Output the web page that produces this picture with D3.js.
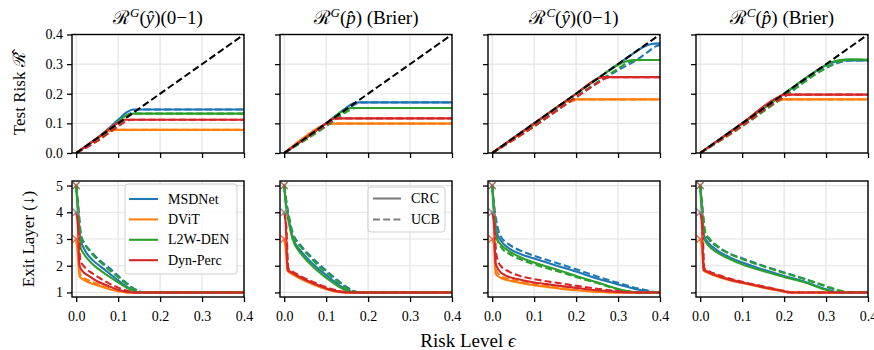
<!DOCTYPE html>
<html>
<head>
<meta charset="utf-8">
<script src="https://cdn.jsdelivr.net/npm/d3@7"></script>
<style>
body { margin: 0; background: #fff; }
text { font-family: "Liberation Serif", "DejaVu Serif", serif; fill: #000; }
</style>
</head>
<body>
<script>
// models, colours and panels
const models = ["MSDNet", "DViT", "L2W-DEN", "Dyn-Perc"];
const colors = ["#1f77b4", "#ff7f0e", "#2ca02c", "#d62728"];
const methods = ["CRC", "UCB"];
const titleRisk = ["G", "G", "C", "C"];
const titlePred = ["ŷ", "p̂", "ŷ", "p̂"];
const titleLoss = ["(0−1)", " (Brier)", "(0−1)", " (Brier)"];

const epsTicks = [0, 0.1, 0.2, 0.3, 0.4];
const riskTicks = [0, 0.1, 0.2, 0.3, 0.4];
const layerTicks = [1, 2, 3, 4, 5];
const diagonal = [[0, 0], [0.4, 0.4]];

// x marks at eps = 0 (full model exit)
const startLayers = [5, 4, 3];
const startColors = ["#8c564b", "#8a8a8a", "#e8603a"];

// ---- test risk, [eps, risk] points, order = models ----
const riskGyCRC = [
  [[0,0],[0.05,0.05],[0.1,0.112],[0.12,0.137],[0.135,0.147],[0.4,0.147]],
  [[0,0],[0.05,0.048],[0.08,0.075],[0.09,0.078],[0.4,0.078]],
  [[0,0],[0.05,0.05],[0.1,0.105],[0.12,0.128],[0.135,0.133],[0.4,0.133]],
  [[0,0],[0.05,0.05],[0.1,0.102],[0.115,0.112],[0.4,0.112]]
];
const riskGyUCB = [
  [[0,0],[0.05,0.045],[0.1,0.095],[0.13,0.135],[0.15,0.147],[0.4,0.147]],
  [[0,0],[0.05,0.042],[0.085,0.075],[0.095,0.078],[0.4,0.078]],
  [[0,0],[0.05,0.043],[0.1,0.093],[0.125,0.125],[0.14,0.133],[0.4,0.133]],
  [[0,0],[0.05,0.04],[0.1,0.09],[0.12,0.108],[0.13,0.112],[0.4,0.112]]
];
const riskGpCRC = [
  [[0,0],[0.1,0.1],[0.15,0.155],[0.165,0.168],[0.18,0.171],[0.4,0.171]],
  [[0,0],[0.09,0.092],[0.1,0.099],[0.4,0.099]],
  [[0,0],[0.1,0.1],[0.14,0.142],[0.16,0.152],[0.4,0.152]],
  [[0,0],[0.1,0.1],[0.115,0.115],[0.125,0.117],[0.4,0.117]]
];
const riskGpUCB = [
  [[0,0],[0.1,0.093],[0.15,0.145],[0.17,0.165],[0.185,0.171],[0.4,0.171]],
  [[0,0],[0.09,0.085],[0.105,0.099],[0.4,0.099]],
  [[0,0],[0.1,0.09],[0.15,0.14],[0.17,0.152],[0.4,0.152]],
  [[0,0],[0.1,0.095],[0.12,0.113],[0.13,0.117],[0.4,0.117]]
];
const riskCyCRC = [
  [[0,0],[0.1,0.1],[0.2,0.2],[0.3,0.3],[0.34,0.34],[0.36,0.358],[0.38,0.368],[0.4,0.37]],
  [[0,0],[0.1,0.097],[0.18,0.175],[0.2,0.181],[0.4,0.181]],
  [[0,0],[0.1,0.1],[0.2,0.2],[0.28,0.28],[0.3,0.298],[0.32,0.31],[0.34,0.314],[0.4,0.314]],
  [[0,0],[0.1,0.1],[0.2,0.2],[0.25,0.25],[0.265,0.256],[0.4,0.256]]
];
const riskCyUCB = [
  [[0,0],[0.1,0.092],[0.2,0.188],[0.3,0.28],[0.34,0.31],[0.37,0.34],[0.39,0.36],[0.4,0.365]],
  [[0,0],[0.1,0.09],[0.19,0.175],[0.21,0.181],[0.4,0.181]],
  [[0,0],[0.1,0.09],[0.2,0.19],[0.3,0.285],[0.32,0.303],[0.34,0.312],[0.36,0.314],[0.4,0.314]],
  [[0,0],[0.1,0.09],[0.2,0.188],[0.25,0.235],[0.28,0.256],[0.4,0.256]]
];
const riskCpCRC = [
  [[0,0],[0.1,0.1],[0.2,0.2],[0.28,0.28],[0.31,0.303],[0.34,0.312],[0.4,0.312]],
  [[0,0],[0.1,0.098],[0.18,0.178],[0.19,0.181],[0.4,0.181]],
  [[0,0],[0.1,0.1],[0.2,0.2],[0.28,0.28],[0.31,0.305],[0.33,0.313],[0.36,0.316],[0.4,0.315]],
  [[0,0],[0.1,0.1],[0.19,0.192],[0.2,0.197],[0.4,0.197]]
];
const riskCpUCB = [
  [[0,0],[0.1,0.093],[0.2,0.19],[0.3,0.288],[0.33,0.305],[0.36,0.312],[0.4,0.312]],
  [[0,0],[0.1,0.09],[0.19,0.177],[0.2,0.181],[0.4,0.181]],
  [[0,0],[0.1,0.09],[0.2,0.19],[0.3,0.287],[0.33,0.308],[0.36,0.315],[0.4,0.315]],
  [[0,0],[0.1,0.092],[0.2,0.19],[0.21,0.197],[0.4,0.197]]
];

// ---- exit layer, [eps, layer] points ----
const exitGyCRC = [
  [[0,5],[0.005,4.0],[0.01,3.0],[0.02,2.6],[0.04,2.2],[0.06,1.95],[0.08,1.7],[0.1,1.45],[0.12,1.22],[0.14,1.03],[0.15,1],[0.4,1]],
  [[0,3],[0.003,2.6],[0.008,1.6],[0.02,1.45],[0.04,1.32],[0.06,1.22],[0.08,1.12],[0.1,1.05],[0.12,1.0],[0.4,1]],
  [[0,5],[0.005,3.8],[0.01,2.7],[0.02,2.4],[0.04,2.05],[0.06,1.8],[0.08,1.58],[0.1,1.38],[0.12,1.18],[0.14,1.03],[0.15,1],[0.4,1]],
  [[0,4],[0.004,3.5],[0.008,2.0],[0.015,1.8],[0.03,1.62],[0.05,1.42],[0.075,1.25],[0.1,1.1],[0.12,1.02],[0.13,1],[0.4,1]]
];
const exitGyUCB = [
  [[0,5],[0.006,4.0],[0.012,3.1],[0.02,2.85],[0.04,2.45],[0.06,2.15],[0.08,1.9],[0.1,1.62],[0.12,1.35],[0.14,1.12],[0.155,1.02],[0.165,1],[0.4,1]],
  [[0,3],[0.004,2.6],[0.01,1.65],[0.03,1.45],[0.05,1.32],[0.07,1.2],[0.09,1.1],[0.11,1.03],[0.13,1.0],[0.4,1]],
  [[0,5],[0.006,4.0],[0.012,3.0],[0.02,2.8],[0.04,2.4],[0.06,2.1],[0.08,1.82],[0.1,1.57],[0.12,1.32],[0.14,1.1],[0.16,1],[0.4,1]],
  [[0,4],[0.005,3.5],[0.01,2.2],[0.02,1.95],[0.04,1.7],[0.06,1.5],[0.08,1.32],[0.1,1.18],[0.12,1.07],[0.14,1.0],[0.4,1]]
];
const exitGpCRC = [
  [[0,5],[0.005,4.2],[0.01,3.8],[0.02,3.05],[0.04,2.55],[0.06,2.2],[0.08,1.9],[0.1,1.65],[0.12,1.4],[0.14,1.18],[0.16,1.03],[0.17,1],[0.4,1]],
  [[0,3],[0.004,2.6],[0.008,1.8],[0.02,1.68],[0.04,1.5],[0.06,1.36],[0.08,1.23],[0.1,1.12],[0.12,1.04],[0.14,1],[0.4,1]],
  [[0,5],[0.005,4.2],[0.01,3.7],[0.02,3.0],[0.04,2.45],[0.06,2.1],[0.08,1.8],[0.1,1.55],[0.12,1.32],[0.14,1.13],[0.16,1.02],[0.17,1],[0.4,1]],
  [[0,4],[0.004,3.5],[0.008,1.85],[0.02,1.72],[0.04,1.55],[0.06,1.4],[0.08,1.27],[0.1,1.15],[0.12,1.06],[0.14,1.01],[0.15,1],[0.4,1]]
];
const exitGpUCB = [
  [[0,5],[0.006,4.3],[0.012,3.8],[0.02,3.25],[0.04,2.75],[0.06,2.4],[0.08,2.1],[0.1,1.82],[0.12,1.55],[0.14,1.3],[0.16,1.1],[0.18,1.0],[0.4,1]],
  [[0,3],[0.005,2.6],[0.01,1.85],[0.02,1.74],[0.04,1.56],[0.06,1.41],[0.08,1.28],[0.1,1.16],[0.12,1.07],[0.14,1.02],[0.15,1],[0.4,1]],
  [[0,5],[0.006,4.3],[0.012,3.7],[0.02,3.15],[0.04,2.7],[0.06,2.35],[0.08,2.02],[0.1,1.75],[0.12,1.5],[0.14,1.25],[0.16,1.07],[0.18,1.0],[0.4,1]],
  [[0,4],[0.005,3.5],[0.01,1.9],[0.02,1.78],[0.04,1.6],[0.06,1.45],[0.08,1.32],[0.1,1.2],[0.12,1.1],[0.14,1.03],[0.16,1],[0.4,1]]
];
const exitCyCRC = [
  [[0,5],[0.004,4.2],[0.01,3.3],[0.02,2.95],[0.04,2.65],[0.07,2.42],[0.1,2.27],[0.15,2.02],[0.2,1.78],[0.25,1.52],[0.3,1.3],[0.35,1.1],[0.38,1.02],[0.39,1],[0.4,1]],
  [[0,3],[0.004,2.8],[0.008,1.7],[0.02,1.55],[0.04,1.45],[0.07,1.35],[0.1,1.27],[0.15,1.17],[0.2,1.08],[0.25,1.02],[0.28,1],[0.4,1]],
  [[0,5],[0.004,4.0],[0.01,3.05],[0.02,2.8],[0.04,2.55],[0.07,2.3],[0.1,2.12],[0.15,1.88],[0.2,1.62],[0.25,1.38],[0.3,1.13],[0.33,1.03],[0.35,1],[0.4,1]],
  [[0,4],[0.004,3.6],[0.008,2.1],[0.015,1.85],[0.03,1.65],[0.06,1.5],[0.1,1.37],[0.15,1.27],[0.2,1.17],[0.25,1.08],[0.3,1.02],[0.32,1],[0.4,1]]
];
const exitCyUCB = [
  [[0,5],[0.005,4.2],[0.012,3.5],[0.02,3.1],[0.04,2.8],[0.07,2.55],[0.1,2.37],[0.15,2.12],[0.2,1.87],[0.25,1.6],[0.3,1.36],[0.35,1.14],[0.38,1.04],[0.395,1],[0.4,1]],
  [[0,3],[0.005,2.8],[0.01,1.8],[0.02,1.62],[0.04,1.5],[0.07,1.4],[0.1,1.32],[0.15,1.2],[0.2,1.1],[0.25,1.04],[0.29,1],[0.4,1]],
  [[0,5],[0.005,4.0],[0.012,3.0],[0.02,2.72],[0.04,2.45],[0.07,2.22],[0.1,2.05],[0.15,1.82],[0.2,1.58],[0.25,1.35],[0.3,1.12],[0.33,1.03],[0.35,1],[0.4,1]],
  [[0,4],[0.005,3.6],[0.01,2.4],[0.02,2.0],[0.04,1.78],[0.07,1.6],[0.1,1.5],[0.15,1.37],[0.2,1.25],[0.25,1.14],[0.3,1.05],[0.33,1.01],[0.35,1],[0.4,1]]
];
const exitCpCRC = [
  [[0,5],[0.004,4.1],[0.01,3.1],[0.02,2.85],[0.04,2.58],[0.07,2.32],[0.1,2.12],[0.15,1.86],[0.2,1.62],[0.25,1.4],[0.3,1.12],[0.32,1.03],[0.33,1],[0.4,1]],
  [[0,3],[0.004,2.7],[0.008,1.82],[0.02,1.72],[0.04,1.6],[0.07,1.46],[0.1,1.35],[0.15,1.18],[0.2,1.03],[0.21,1],[0.4,1]],
  [[0,5],[0.004,4.1],[0.01,3.0],[0.02,2.75],[0.04,2.5],[0.07,2.25],[0.1,2.05],[0.15,1.8],[0.2,1.58],[0.25,1.37],[0.3,1.1],[0.32,1.02],[0.33,1],[0.4,1]],
  [[0,4],[0.004,3.6],[0.008,1.85],[0.02,1.75],[0.04,1.62],[0.07,1.48],[0.1,1.37],[0.15,1.2],[0.2,1.04],[0.21,1],[0.4,1]]
];
const exitCpUCB = [
  [[0,5],[0.005,4.2],[0.012,3.2],[0.02,3.0],[0.04,2.72],[0.07,2.45],[0.1,2.28],[0.15,2.0],[0.2,1.75],[0.25,1.5],[0.3,1.22],[0.33,1.06],[0.35,1],[0.4,1]],
  [[0,3],[0.005,2.7],[0.01,1.87],[0.02,1.77],[0.04,1.64],[0.07,1.5],[0.1,1.38],[0.15,1.21],[0.2,1.05],[0.22,1],[0.4,1]],
  [[0,5],[0.005,4.2],[0.012,3.25],[0.02,3.05],[0.04,2.75],[0.07,2.45],[0.1,2.25],[0.15,1.98],[0.2,1.73],[0.25,1.5],[0.3,1.24],[0.33,1.08],[0.36,1],[0.4,1]],
  [[0,4],[0.005,3.6],[0.01,1.9],[0.02,1.8],[0.04,1.67],[0.07,1.52],[0.1,1.4],[0.15,1.23],[0.2,1.06],[0.22,1],[0.4,1]]
];

const riskPanels = [[riskGyCRC, riskGyUCB], [riskGpCRC, riskGpUCB], [riskCyCRC, riskCyUCB], [riskCpCRC, riskCpUCB]];
const exitPanels = [[exitGyCRC, exitGyUCB], [exitGpCRC, exitGpUCB], [exitCyCRC, exitCyUCB], [exitCpCRC, exitCpUCB]];

// ---- layout ----
let w = 874;
let h = 350;
let panelW = 172;
let panelStep = 208;
let left0 = 72;
let topRow = [34.5, 153];
let botRow = [181, 297];
let dashes = ["none", "7,3.2"];

let svg = d3.select("body")
    .append("svg")
    .attr("width", w)
    .attr("height", h);

let defs = svg.append("defs");

function drawPanel(idx, rowName, rowY, yDomain, yTicks, showX, series, isTop) {
    let x0 = left0 + idx * panelStep;
    let xScale = d3.scaleLinear().domain([-0.01, 0.4]).range([x0, x0 + panelW]);
    let yScale = d3.scaleLinear().domain(yDomain).range([rowY[1], rowY[0]]);
    let g = svg.append("g");
    let clipId = "clip-" + rowName + idx;

    defs.append("clipPath").attr("id", clipId)
        .append("rect")
        .attr("x", x0).attr("y", rowY[0])
        .attr("width", panelW).attr("height", rowY[1] - rowY[0]);

    // grid
    g.selectAll(".vgrid").data(epsTicks).enter().append("line")
        .attr("x1", d => xScale(d)).attr("x2", d => xScale(d))
        .attr("y1", rowY[0]).attr("y2", rowY[1])
        .attr("stroke", "#e3e3e3").attr("stroke-width", 1.2);
    g.selectAll(".hgrid").data(yTicks).enter().append("line")
        .attr("x1", x0).attr("x2", x0 + panelW)
        .attr("y1", d => yScale(d)).attr("y2", d => yScale(d))
        .attr("stroke", "#e3e3e3").attr("stroke-width", 1.2);

    let plot = g.append("g").attr("clip-path", "url(#" + clipId + ")");
    let line = d3.line()
        .x(d => xScale(d[0]))
        .y(d => yScale(d[1]))
        .curve(d3.curveMonotoneX);

    // one model at a time: CRC solid then UCB dashed
    models.forEach(function (m, i) {
        methods.forEach(function (meth, k) {
            plot.append("path")
                .attr("d", line(series[k][i]))
                .attr("fill", "none")
                .attr("stroke", colors[i])
                .attr("stroke-width", 2.1)
                .attr("stroke-dasharray", dashes[k])
                .attr("stroke-linejoin", "round");
        });
    });

    if (isTop) {
        plot.append("path")
            .attr("d", line.curve(d3.curveLinear)(diagonal))
            .attr("fill", "none")
            .attr("stroke", "#000")
            .attr("stroke-width", 2)
            .attr("stroke-dasharray", "7,3.2");
    } else {
        let xs = g.selectAll(".startmark").data(startLayers).enter().append("g")
            .attr("transform", (d) => "translate(" + xScale(0) + "," + yScale(d) + ")");
        xs.append("path")
            .attr("d", "M-3.5,-3.5L3.5,3.5M-3.5,3.5L3.5,-3.5")
            .attr("stroke", (d, i) => startColors[i])
            .attr("stroke-width", 1.6)
            .attr("opacity", 0.85);
    }

    // axes
    let xAxis = d3.axisBottom(xScale).tickValues(epsTicks).tickSize(5).tickPadding(4)
        .tickFormat(showX ? d3.format(".1f") : "");
    let yAxis = d3.axisLeft(yScale).tickValues(yTicks).tickSize(5).tickPadding(4)
        .tickFormat(idx === 0 ? (isTop ? d3.format(".1f") : d3.format("d")) : "");

    let ax = g.append("g").attr("transform", "translate(0," + rowY[1] + ")").call(xAxis);
    let ay = g.append("g").attr("transform", "translate(" + x0 + ",0)").call(yAxis);
    [ax, ay].forEach(function (a) {
        a.select(".domain").remove();
        a.selectAll(".tick line").attr("stroke", "#000").attr("stroke-width", 1.3);
        a.selectAll(".tick text")
            .style("font-family", '"Liberation Serif", "DejaVu Serif", serif')
            .style("font-size", "14px")
            .attr("fill", "#000");
    });
    if (showX) ax.selectAll(".tick text").attr("dy", "1.05em");

    g.append("rect")
        .attr("x", x0).attr("y", rowY[0])
        .attr("width", panelW).attr("height", rowY[1] - rowY[0])
        .attr("fill", "none").attr("stroke", "#000").attr("stroke-width", 1.4);

    return { x0: x0, g: g };
}

for (let i = 0; i < 4; i++) {
    let p = drawPanel(i, "top", topRow, [0, 0.4], riskTicks, false, riskPanels[i], true);

    // title like R^G(y)(0-1)
    let t = svg.append("text")
        .attr("x", p.x0 + panelW / 2)
        .attr("y", 24)
        .attr("text-anchor", "middle")
        .style("font-size", "19px");
    t.append("tspan").text("ℛ");
    t.append("tspan").attr("dy", -7).style("font-size", "13px").style("font-style", "italic").text(titleRisk[i]);
    t.append("tspan").attr("dy", 7).text("(");
    t.append("tspan").style("font-style", "italic").text(titlePred[i]);
    t.append("tspan").text(")" + titleLoss[i]);

    drawPanel(i, "bot", botRow, [0.83, 5.17], layerTicks, true, exitPanels[i], false);
}

// axis labels
let yl1 = svg.append("text")
    .attr("transform", "translate(19," + (topRow[0] + topRow[1]) / 2 + ") rotate(-90)")
    .attr("text-anchor", "middle")
    .attr("dy", "0.35em")
    .style("font-size", "17px");
yl1.append("tspan").text("Test Risk ");
yl1.append("tspan").text("ℛ̂");

svg.append("text")
    .attr("transform", "translate(28," + (botRow[0] + botRow[1]) / 2 + ") rotate(-90)")
    .attr("text-anchor", "middle")
    .attr("dy", "0.35em")
    .style("font-size", "17px")
    .text("Exit Layer (↓)");

let xl = svg.append("text")
    .attr("x", 468)
    .attr("y", 347)
    .attr("text-anchor", "middle")
    .style("font-size", "19px");
xl.append("tspan").text("Risk Level ");
xl.append("tspan").style("font-style", "italic").text("ϵ");

// legend: models (first bottom panel)
function legendBox(x, y, bw, bh) {
    svg.append("rect")
        .attr("x", x).attr("y", y).attr("width", bw).attr("height", bh)
        .attr("rx", 3)
        .attr("fill", "#fff").attr("fill-opacity", 0.8)
        .attr("stroke", "#cfcfcf").attr("stroke-width", 1);
}

let lx = left0 + panelW - 7 - 112;
let ly = botRow[0] + 3;
legendBox(lx, ly, 112, 90);
let leg1 = svg.selectAll(".leg1").data(models).enter().append("g")
    .attr("transform", (d, i) => "translate(" + (lx + 4) + "," + (ly + 15 + i * 20.4) + ")");
leg1.append("line")
    .attr("x1", 0).attr("x2", 29)
    .attr("stroke", (d, i) => colors[i])
    .attr("stroke-width", 2.1);
leg1.append("text")
    .attr("x", 39).attr("dy", "0.33em")
    .style("font-size", "14px")
    .text(d => d);

// legend: methods (second bottom panel)
let mx = left0 + panelStep + panelW - 7 - 77;
let my = botRow[0] + 6;
legendBox(mx, my, 77, 45);
let leg2 = svg.selectAll(".leg2").data(methods).enter().append("g")
    .attr("transform", (d, i) => "translate(" + (mx + 5) + "," + (my + 11.5 + i * 21) + ")");
leg2.append("line")
    .attr("x1", 0).attr("x2", 28)
    .attr("stroke", "#7f7f7f")
    .attr("stroke-width", 2.1)
    .attr("stroke-dasharray", (d, i) => dashes[i]);
leg2.append("text")
    .attr("x", 38).attr("dy", "0.33em")
    .style("font-size", "14px")
    .text(d => d);
</script>
</body>
</html>
